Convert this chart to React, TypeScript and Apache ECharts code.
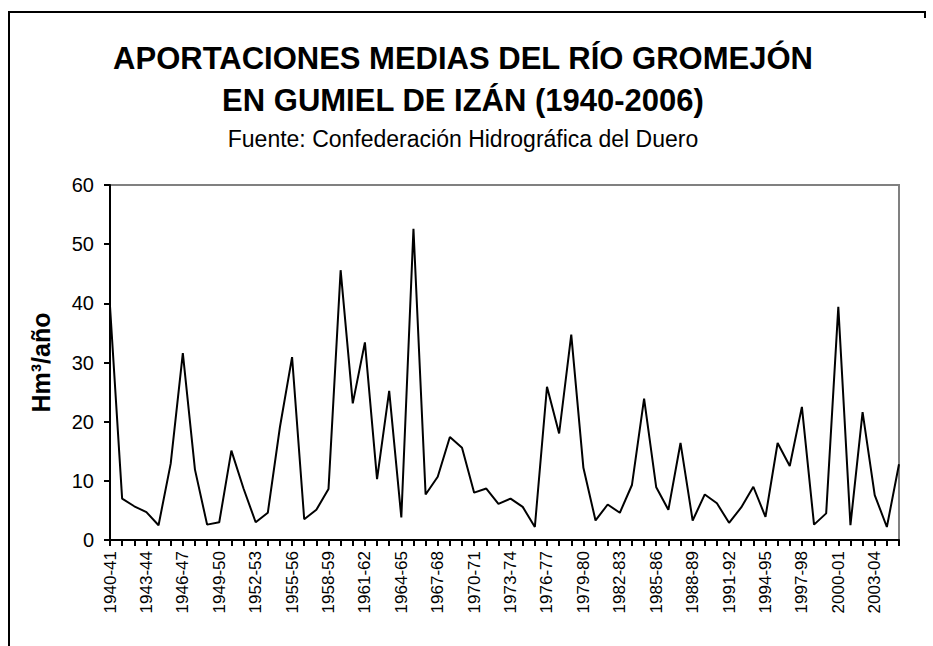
import React, { useEffect, useRef } from "react";
import * as echarts from "echarts";

const categories: string[] = [
  "1940-41","1941-42","1942-43","1943-44","1944-45","1945-46","1946-47","1947-48","1948-49","1949-50",
  "1950-51","1951-52","1952-53","1953-54","1954-55","1955-56","1956-57","1957-58","1958-59","1959-60",
  "1960-61","1961-62","1962-63","1963-64","1964-65","1965-66","1966-67","1967-68","1968-69","1969-70",
  "1970-71","1971-72","1972-73","1973-74","1974-75","1975-76","1976-77","1977-78","1978-79","1979-80",
  "1980-81","1981-82","1982-83","1983-84","1984-85","1985-86","1986-87","1987-88","1988-89","1989-90",
  "1990-91","1991-92","1992-93","1993-94","1994-95","1995-96","1996-97","1997-98","1998-99","1999-00",
  "2000-01","2001-02","2002-03","2003-04","2004-05","2005-06"
];

const aportaciones: number[] = [
  39.5, 7.0, 5.7, 4.7, 2.5, 12.9, 31.6, 11.9, 2.6, 3.0,
  15.1, 8.7, 3.0, 4.6, 19.1, 30.9, 3.5, 5.1, 8.6, 45.6,
  23.1, 33.4, 10.3, 25.2, 3.8, 52.6, 7.7, 10.7, 17.4, 15.6,
  8.0, 8.7, 6.1, 7.0, 5.6, 2.2, 25.9, 18.0, 34.7, 12.2,
  3.3, 6.0, 4.6, 9.3, 23.9, 8.9, 5.1, 16.4, 3.3, 7.7,
  6.2, 2.9, 5.5, 9.0, 3.9, 16.4, 12.5, 22.5, 2.6, 4.5,
  39.4, 2.5, 21.6, 7.6, 2.2, 12.8
];

const titleLines: string[] = [
  "APORTACIONES MEDIAS DEL RÍO GROMEJÓN",
  "EN GUMIEL DE IZÁN (1940-2006)",
];
const subtitle = "Fuente: Confederación Hidrográfica del Duero";
const yAxisName = "Hm³/año";

const FONT = "'Liberation Sans', Arial, sans-serif";

export default function App() {
  const ref = useRef<HTMLDivElement>(null);
  useEffect(() => {
    if (!ref.current) return;
    const chart = echarts.init(ref.current, undefined, { renderer: "svg" });
    chart.setOption({
      animation: false,
      backgroundColor: "#ffffff",
      textStyle: { fontFamily: FONT },
      grid: {
        left: 110,
        right: 34,
        top: 185,
        bottom: 106,
        show: true,
        borderColor: "#808080",
        borderWidth: 2,
        backgroundColor: "transparent",
      },
      graphic: [
        {
          type: "polyline",
          shape: { points: [[9, 660], [9, 12], [925, 12], [925, 18]] },
          style: { fill: "none", stroke: "#000", lineWidth: 2 },
          silent: true,
          z: 0,
        },
        {
          type: "text",
          x: 463,
          y: 58,
          style: {
            text: titleLines[0],
            font: `bold 31px ${FONT}`,
            fill: "#000",
            textAlign: "center",
            textVerticalAlign: "middle",
          },
        },
        {
          type: "text",
          x: 463,
          y: 100,
          style: {
            text: titleLines[1],
            font: `bold 31px ${FONT}`,
            fill: "#000",
            textAlign: "center",
            textVerticalAlign: "middle",
          },
        },
        {
          type: "text",
          x: 463,
          y: 139,
          style: {
            text: subtitle,
            font: `23px ${FONT}`,
            fill: "#000",
            textAlign: "center",
            textVerticalAlign: "middle",
          },
        },
      ],
      xAxis: {
        type: "category",
        data: categories,
        boundaryGap: false,
        axisLine: { show: true, lineStyle: { color: "#000", width: 2 } },
        axisTick: { show: true, interval: 0, length: 6, lineStyle: { color: "#000", width: 2 } },
        axisLabel: {
          interval: 2,
          rotate: 90,
          color: "#000",
          fontSize: 17,
          fontFamily: FONT,
          margin: 11,
        },
        splitLine: { show: false },
      },
      yAxis: {
        type: "value",
        min: 0,
        max: 60,
        interval: 10,
        name: yAxisName,
        nameLocation: "middle",
        nameGap: 57,
        nameRotate: 90,
        nameTextStyle: { color: "#000", fontSize: 25, fontWeight: "bold", fontFamily: FONT },
        axisLine: { show: true, lineStyle: { color: "#000", width: 2 } },
        axisTick: { show: true, length: 6, lineStyle: { color: "#000", width: 2 } },
        axisLabel: { color: "#000", fontSize: 20, fontFamily: FONT, margin: 16 },
        splitLine: { show: false },
      },
      series: [
        {
          type: "line",
          data: aportaciones,
          symbol: "none",
          lineStyle: { color: "#000", width: 2 },
        },
      ],
    });
    return () => chart.dispose();
  }, []);
  return <div ref={ref} style={{ width: 933, height: 646, position: "absolute", left: 0, top: 0 }} />;
}
